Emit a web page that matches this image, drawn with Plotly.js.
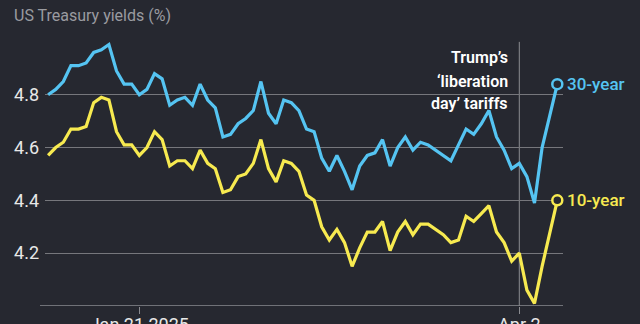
<!DOCTYPE html>
<html>
<head>
<meta charset="utf-8">
<script src="https://cdn.plot.ly/plotly-3.0.1.min.js"></script>
<style>html,body{margin:0;padding:0;background:#262830;}#chart{width:640px;height:324px;}</style>
</head>
<body>
<div id="chart"></div>
<script>
// Trading days, Dec 31 2024 - Apr 9 2025
var dates = ['Dec 31','Jan 2','Jan 3','Jan 6','Jan 7','Jan 8','Jan 10','Jan 13','Jan 14','Jan 15',
  'Jan 16','Jan 17','Jan 21','Jan 22','Jan 23','Jan 24','Jan 27','Jan 28','Jan 29','Jan 30',
  'Jan 31','Feb 3','Feb 4','Feb 5','Feb 6','Feb 7','Feb 10','Feb 11','Feb 12','Feb 13',
  'Feb 14','Feb 18','Feb 19','Feb 20','Feb 21','Feb 24','Feb 25','Feb 26','Feb 27','Feb 28',
  'Mar 3','Mar 4','Mar 5','Mar 6','Mar 7','Mar 10','Mar 11','Mar 12','Mar 13','Mar 14',
  'Mar 17','Mar 18','Mar 19','Mar 20','Mar 21','Mar 24','Mar 25','Mar 26','Mar 27','Mar 28',
  'Mar 31','Apr 1','Apr 2','Apr 3','Apr 4','Apr 7','Apr 8','Apr 9'];

var yield30 = [4.80,4.82,4.85,4.91,4.91,4.92,4.96,4.97,4.99,4.89,
  4.84,4.84,4.80,4.82,4.88,4.86,4.76,4.78,4.79,4.76,
  4.84,4.78,4.75,4.64,4.65,4.69,4.71,4.74,4.85,4.73,
  4.69,4.78,4.77,4.74,4.67,4.66,4.56,4.51,4.57,4.51,
  4.44,4.53,4.57,4.58,4.63,4.53,4.60,4.64,4.59,4.62,
  4.61,4.59,4.57,4.55,4.61,4.67,4.65,4.69,4.74,4.64,
  4.59,4.52,4.54,4.49,4.39,4.60,4.72,4.84];

var yield10 = [4.57,4.60,4.62,4.67,4.67,4.68,4.77,4.79,4.78,4.66,
  4.61,4.61,4.57,4.60,4.66,4.63,4.53,4.55,4.55,4.52,
  4.59,4.54,4.52,4.43,4.44,4.49,4.50,4.54,4.63,4.52,
  4.47,4.55,4.54,4.51,4.42,4.40,4.30,4.25,4.29,4.24,
  4.15,4.22,4.28,4.28,4.32,4.21,4.28,4.32,4.27,4.31,
  4.31,4.29,4.27,4.24,4.25,4.34,4.32,4.35,4.38,4.28,
  4.24,4.17,4.20,4.06,4.01,4.15,4.28,4.40];

var seriesNames = ['30-year','10-year'];
var yTicks = [4.2,4.4,4.6,4.8];
var yTickText = ['4.2','4.4','4.6','4.8'];
var xTicks = ['Jan 21','Apr 2'];
var xTickText = ['Jan 21 2025','Apr 2'];
var eventDate = 'Apr 2';
var eventLines = ['Trump\u2019s','\u2018liberation','day\u2019 tariffs'];
var titleText = 'US Treasury yields (%)';

var BG = '#262830';
var C30 = '#55c4f2';
var C10 = '#f7ea50';
var GRID = '#76777c';
var FONT = 'Roboto, "Open Sans", sans-serif';

var last = dates.length - 1;
var eventIdx = dates.indexOf(eventDate);

var traces = [
  {x: dates, y: yield30, type: 'scatter', mode: 'lines', line: {color: C30, width: 3.2}, hoverinfo: 'skip'},
  {x: dates, y: yield10, type: 'scatter', mode: 'lines', line: {color: C10, width: 3.2}, hoverinfo: 'skip'},
  {x: [dates[last]], y: [yield30[last]], type: 'scatter', mode: 'markers', cliponaxis: false,
   marker: {symbol: 'circle', size: 10, color: BG, line: {color: C30, width: 2.5}}},
  {x: [dates[last]], y: [yield10[last]], type: 'scatter', mode: 'markers', cliponaxis: false,
   marker: {symbol: 'circle', size: 10, color: BG, line: {color: C10, width: 2.5}}}
];

var annYs = [4.94, 4.851, 4.768];
var annotations = eventLines.map(function (t, i) {
  return {x: eventIdx, y: annYs[i], xref: 'x', yref: 'y', text: t, showarrow: false,
    xanchor: 'right', yanchor: 'middle', xshift: -9,
    font: {family: FONT, size: 16, color: '#ffffff', weight: 600}};
});
annotations.push({x: last, y: yield30[last], xref: 'x', yref: 'y', text: seriesNames[0], showarrow: false,
  xanchor: 'left', yanchor: 'middle', xshift: 8, font: {family: FONT, size: 17, color: C30, weight: 500}});
annotations.push({x: last, y: yield10[last], xref: 'x', yref: 'y', text: seriesNames[1], showarrow: false,
  xanchor: 'left', yanchor: 'middle', xshift: 8, font: {family: FONT, size: 17, color: C10, weight: 500}});

var layout = {
  width: 640, height: 324,
  margin: {l: 45, r: 77, t: 30, b: 18},
  paper_bgcolor: BG, plot_bgcolor: BG,
  showlegend: false,
  title: {text: titleText, x: 14/640, xref: 'container', xanchor: 'left',
          y: 1 - 15.5/324, yref: 'container', yanchor: 'middle',
          font: {family: FONT, size: 16, color: '#9a9ba0'}},
  xaxis: {type: 'category', range: [-0.41, 67.75], tickmode: 'array', tickvals: xTicks, ticktext: xTickText,
          ticks: 'outside', ticklen: 7, tickcolor: '#8a8b90', tickwidth: 1,
          showgrid: false, zeroline: false, showline: false, ticklabelstandoff: -5,
          tickfont: {family: FONT, size: 18, color: '#e8e8e8'}},
  yaxis: {range: [4.0, 5.045], tickmode: 'array', tickvals: yTicks, ticktext: yTickText,
          showgrid: true, gridcolor: GRID, gridwidth: 1, zeroline: false, showline: false,
          ticks: '', ticklabelstandoff: 5,
          tickfont: {family: FONT, size: 18, color: '#e8e8e8'}},
  shapes: [
    {type: 'line', xref: 'paper', yref: 'y', x0: -5/518, x1: 1, y0: 4.0, y1: 4.0,
     line: {color: '#8a8b90', width: 1.5}, layer: 'below'},
    {type: 'line', xref: 'x', yref: 'y', x0: eventIdx, x1: eventIdx, y0: 4.0, y1: 5.0,
     line: {color: '#8a8b90', width: 1}, layer: 'below'}
  ],
  annotations: annotations
};

Plotly.newPlot('chart', traces, layout, {displayModeBar: false, staticPlot: true});
</script>
</body>
</html>
